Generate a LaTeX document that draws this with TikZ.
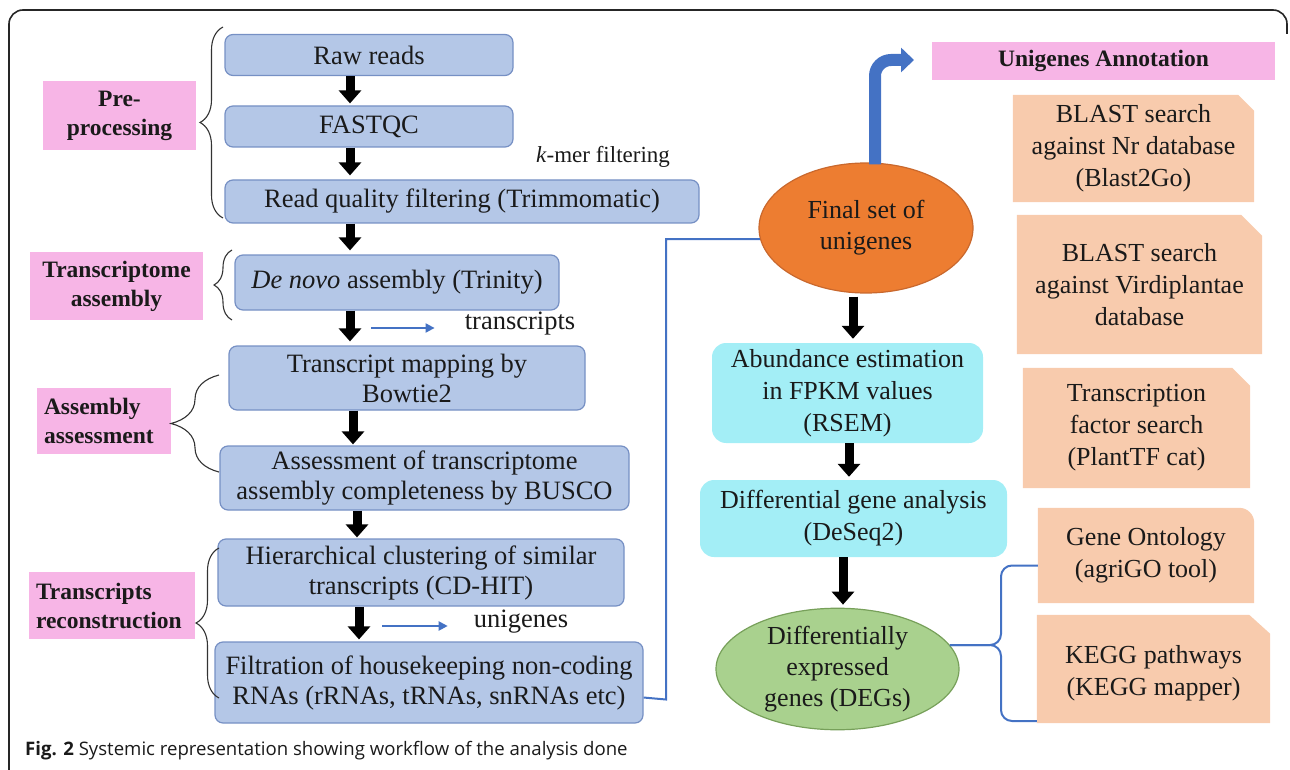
\documentclass[tikz,border=0pt]{standalone}
\usepackage{fontspec}
\setmainfont{Liberation Serif}
\newfontfamily\capfont{Open Sans}
\usetikzlibrary{arrows.meta,decorations.pathreplacing,calc,shapes.geometric}
\pgfdeclarelayer{bg}
\pgfsetlayers{bg,main}
\definecolor{boxblue}{HTML}{B4C7E7}
\definecolor{boxedge}{HTML}{7690C4}
\definecolor{pinkl}{HTML}{F7B5E6}
\definecolor{cyanb}{HTML}{A3EEF6}
\definecolor{orangeE}{HTML}{ED7D31}
\definecolor{orangeD}{HTML}{C9682D}
\definecolor{peach}{HTML}{F8CBAD}
\definecolor{greenE}{HTML}{A9D18E}
\definecolor{greenD}{HTML}{77A05A}
\definecolor{lineblue}{HTML}{4472C4}
\definecolor{txt}{HTML}{1A1A1A}
\tikzset{
  lbox/.style={rounded corners=8pt, fill=boxblue, draw=boxedge, line width=1.2pt,
    align=center, inner sep=0pt, text=txt, font=\fontsize{26.5}{30}\selectfont},
  plabel/.style={fill=pinkl, inner sep=0pt, text=txt,
    font=\fontsize{23.5}{29}\selectfont\bfseries},
  cbox/.style={rounded corners=14pt, fill=cyanb, align=center, inner sep=0pt,
    text=txt, font=\fontsize{26}{32}\selectfont},
  pbox/.style={align=center, inner sep=0pt, text=txt, font=\fontsize{26}{32}\selectfont},
  ell/.style={ellipse, align=center, inner sep=0pt, text=txt, line width=1.2pt,
    font=\fontsize{26}{31}\selectfont},
  plain/.style={text=txt, inner sep=0pt, font=\fontsize{26.5}{30}\selectfont},
  blk/.style={line width=9pt, black, -{Triangle[length=13pt,width=22pt]}},
  thinarrow/.style={line width=2pt, lineblue, -{Triangle[length=9pt,width=9pt]}},
  bline/.style={line width=2pt, lineblue},
  lbrace/.style={decorate, decoration={brace, amplitude=#1}, line width=1.1pt, black!80},
}
\begin{document}
\begin{tikzpicture}[x=1pt,y=-1pt]
\useasboundingbox (0,0) rectangle (1290,770);
% frame
\draw[line width=1.6pt, black!85, rounded corners=14pt] (9,790) -- (9,10) -- (1287,10) -- (1287,34);

% left column boxes
\node[lbox, minimum width=288pt, minimum height=41pt] (raw) at (369,55) {Raw reads};
\node[lbox, minimum width=288pt, minimum height=41pt] (fastqc) at (369,126.5) {FASTQC};
\node[lbox, minimum width=474pt, minimum height=43pt] (readq) at (462,201.5) {Read quality filtering (Trimmomatic)};
\node[lbox, minimum width=324pt, minimum height=55pt] (denovo) at (397,282.5) {\textit{De novo} assembly (Trinity)};
\node[lbox, minimum width=356pt, minimum height=64pt] (tmap) at (407,378) {Transcript mapping by\\Bowtie2};
\node[lbox, minimum width=409pt, minimum height=64pt] (assess) at (424.5,478) {Assessment of transcriptome\\assembly completeness by BUSCO};
\node[lbox, minimum width=406pt, minimum height=67pt] (hier) at (421,572.5) {Hierarchical clustering of similar\\transcripts (CD-HIT)};
\node[lbox, minimum width=428pt, minimum height=81pt] (filt) at (429,682.5) {Filtration of housekeeping non-coding\\RNAs (rRNAs, tRNAs, snRNAs etc)};

% side labels
\node[plabel, align=center, minimum width=153pt, minimum height=69pt] (pre) at (119.5,115.5) {Pre-\\processing};
\node[plabel, align=center, minimum width=173pt, minimum height=68pt] (tra) at (116.5,286) {Transcriptome\\assembly};
\node[plabel, align=left, minimum width=134pt, minimum height=66pt, text width=120pt] (asm) at (104,421) {Assembly\\assessment};
\node[plabel, align=left, minimum width=166pt, minimum height=67pt, text width=152pt] (trr) at (112,605.5) {Transcripts\\reconstruction};

% braces
\draw[lbrace=23pt] (223,218) -- (223,27);
\draw[lbrace=18pt] (232,320) -- (232,250);
\draw[lbrace=48pt] (219,472) -- (219,375);
\draw[lbrace=23pt] (219,698) -- (219,548);

% free texts
\node[plain, font=\fontsize{23}{28}\selectfont] (kmer) at (603,157) {\textit{k}-mer filtering};
\node[plain] (trs) at (520,324) {transcripts};
\node[plain] (ung) at (521,622) {unigenes};

% vertical arrow axes
\coordinate (a1) at (350,0);
\coordinate (a2) at (353,0);
\coordinate (a3) at (357,0);
\coordinate (a4) at (359,0);
\draw[blk] (raw.south -| a1) -- ([yshift=2pt]fastqc.north -| a1);
\draw[blk] (fastqc.south -| a1) -- ([yshift=4pt]readq.north -| a1);
\draw[blk] (readq.south -| a1) -- ([yshift=4pt]denovo.north -| a1);
\draw[blk] (denovo.south -| a1) -- ([yshift=4pt]tmap.north -| a1);
\draw[blk] (tmap.south -| a2) -- ([yshift=1pt]assess.north -| a2);
\draw[blk] (assess.south -| a3) -- ([yshift=1pt]hier.north -| a3);
\draw[blk] (hier.south -| a4) -- ([yshift=2pt]filt.north -| a4);

% small blue arrows
\coordinate (t1) at (371,328);
\draw[thinarrow] (t1) -- ([xshift=-30pt]trs.west |- t1);
\coordinate (t2) at (382,626);
\draw[thinarrow] (t2) -- ([xshift=-26pt]ung.west |- t2);

% right column
\node[ell, fill=orangeE, draw=orangeD, minimum width=214pt, minimum height=130pt] (final) at (866,228) {Final set of\\unigenes};
\node[cbox, minimum width=271pt, minimum height=100pt] (abund) at (847.5,393) {Abundance estimation\\in FPKM values\\(RSEM)};
\node[cbox, minimum width=307pt, minimum height=77pt] (diff) at (853.5,518.5) {Differential gene analysis\\(DeSeq2)};
\node[ell, fill=greenE, draw=greenD, minimum width=243pt, minimum height=108pt] (deg) at (837.5,669) {Differentially\\expressed\\genes (DEGs)};

\coordinate (b1) at (853,0);
\coordinate (b2) at (849,0);
\coordinate (b3) at (843,0);
\draw[blk] ([yshift=-3pt]final.south -| b1) -- ([yshift=4pt]abund.north -| b1);
\draw[blk] (abund.south -| b2) -- ([yshift=3pt]diff.north -| b2);
\draw[blk] (diff.south -| b3) -- ([yshift=3pt]deg.north -| b3);

% filtration -> final connector
\draw[bline] (filt.-4.5) -- (666,699.5) |- (final.186);

% annotation header
\node[plabel, font=\fontsize{23.5}{27}\selectfont\bfseries, minimum width=343pt, minimum height=38pt] (annot) at (1103.5,61) {Unigenes Annotation};
\coordinate (annotTip) at (914,60);
\draw[line width=12pt, lineblue, rounded corners=16pt, -{Triangle[length=13pt,width=24pt]}]
  ([xshift=9pt,yshift=-2pt]final.north) |- (annotTip);

% peach boxes
\node[pbox, minimum width=241pt, minimum height=107pt] (nr) at (1133.5,148.5) {BLAST search\\against Nr database\\(Blast2Go)};
\node[pbox, minimum width=245pt, minimum height=139pt] (vir) at (1139.5,284.5) {BLAST search\\against Virdiplantae\\database};
\node[pbox, minimum width=227pt, minimum height=120pt] (tf) at (1136.5,428) {Transcription\\factor search\\(PlantTF cat)};
\node[pbox, minimum width=216pt, minimum height=95pt] (go) at (1146,555.5) {Gene Ontology\\(agriGO tool)};
\node[pbox, minimum width=233pt, minimum height=108pt] (kegg) at (1153.5,669) {\\[-6pt]KEGG pathways\\(KEGG mapper)};

\begin{pgfonlayer}{bg}
\fill[peach] (nr.south west) -- (nr.north west) -- ([xshift=-16pt]nr.north east) -- ([yshift=-16pt]nr.north east) -- (nr.south east) -- cycle;
\fill[peach] (vir.south west) -- (vir.north west) -- ([xshift=-21pt]vir.north east) -- ([yshift=-21pt]vir.north east) -- (vir.south east) -- cycle;
\fill[peach] (tf.south west) -- (tf.north west) -- ([xshift=-18pt]tf.north east) -- ([yshift=-18pt]tf.north east) -- (tf.south east) -- cycle;
\fill[peach] (go.south west) -- (go.north west) [rounded corners=15pt] -- (go.north east) [sharp corners] -- (go.south east) -- cycle;
\fill[peach] (kegg.south west) -- (kegg.north west) -- ([xshift=-21pt]kegg.north east) -- ([yshift=-19pt]kegg.north east) -- (kegg.south east) -- cycle;
\end{pgfonlayer}

% blue brace DEGs -> GO / KEGG
\coordinate (bx) at (1001,0);
\coordinate (tipy) at (0,645);
\draw[bline, rounded corners=11pt] ([yshift=-10pt]go.west) -- ([yshift=-10pt]go.west -| bx) -- (bx |- tipy) -- (deg.12);
\draw[bline, rounded corners=11pt] (deg.12) -- (bx |- tipy) -- ([yshift=-52pt]kegg.west -| bx) -- ([yshift=-52pt]kegg.west);

% caption
\node[anchor=base west, inner sep=0pt, text=txt, font=\capfont\fontsize{18.6}{22}\selectfont] (cap) at (25,755)
  {\textbf{Fig. 2} Systemic representation showing workflow of the analysis done};
\end{tikzpicture}
\end{document}
